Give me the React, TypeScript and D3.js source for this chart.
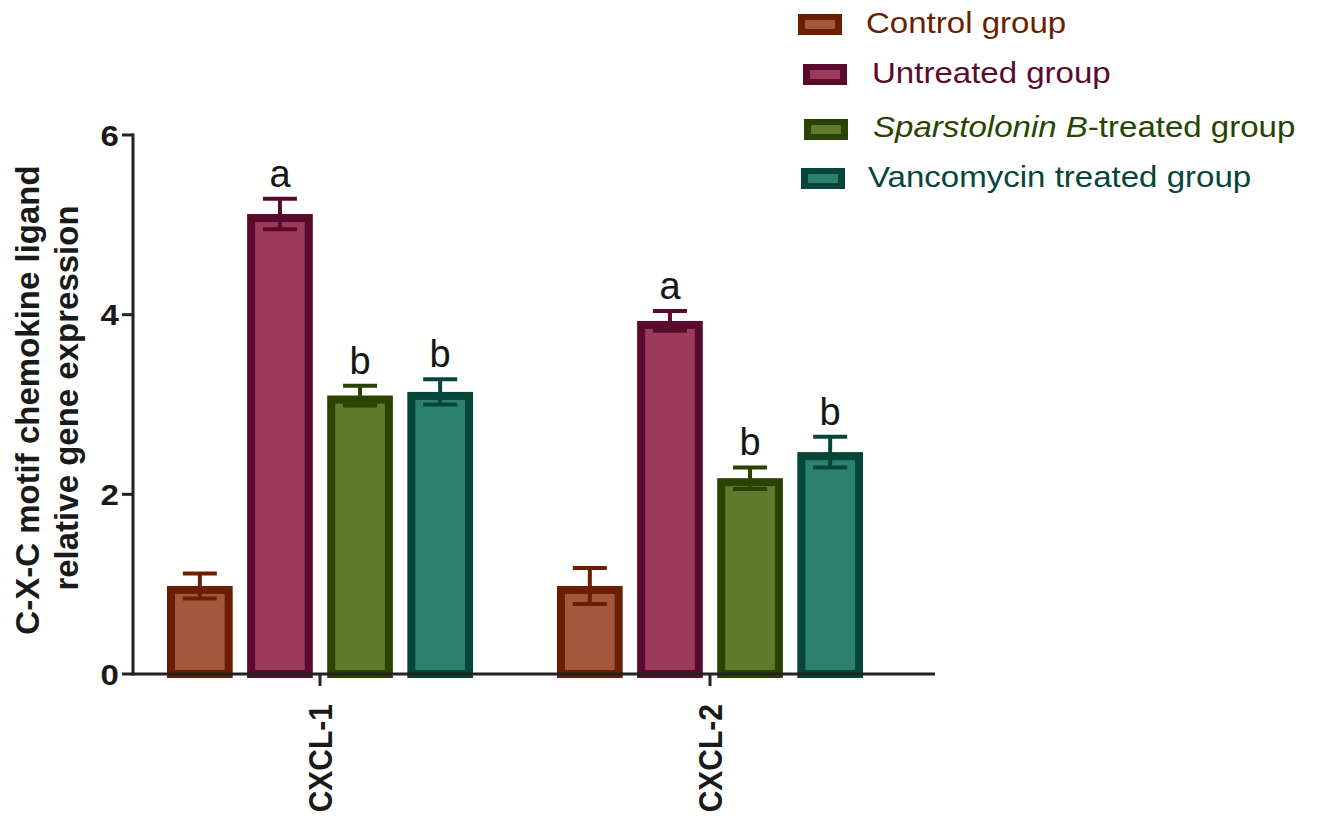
import React from "react";
import * as d3 from "d3";

// Relative expression of CXCL genes per treatment group
const genes = ["CXCL-1", "CXCL-2"];
const groups = ["Control group", "Untreated group", "Sparstolonin B-treated group", "Vancomycin treated group"];
const means = [
  [0.98, 5.12, 3.1, 3.14],
  [0.98, 3.93, 2.18, 2.47],
];
const sems = [
  [0.14, 0.17, 0.11, 0.14],
  [0.2, 0.11, 0.12, 0.17],
];
const letters = [
  ["", "a", "b", "b"],
  ["", "a", "b", "b"],
];
const yTicks = [0, 2, 4, 6];

const fills = ["#a5563b", "#9c3a5c", "#5f7b2b", "#2b816a"];
const strokes = ["#6b1f00", "#5a0a2d", "#294300", "#06463a"];
const textColors = ["#6b1f00", "#5a0a2d", "#294300", "#06463a"];

const W = 1317;
const H = 823;
const axisX = 133;
const axisRight = 935;
const yTop = 135;
const yBottom = 674;

export default function App() {
  const y = d3.scaleLinear().domain([0, 6]).range([yBottom, yTop]);
  const xGene = d3.scaleBand<string>().domain(genes).range([125, 905]);
  const xGroup = d3.scaleBand<string>().domain(groups).range([-153, 153]).paddingInner(0.18);
  const bw = xGroup.bandwidth();
  const sw = 8;
  const font = "'Liberation Sans', Arial, sans-serif";

  const legendRows = [
    { sx: 798, sy: 14, tx: 866, ty: 33 },
    { sx: 803, sy: 64, tx: 872, ty: 83 },
    { sx: 804, sy: 119, tx: 873, ty: 137 },
    { sx: 801, sy: 168, tx: 868, ty: 187 },
  ];

  return (
    <svg width={W} height={H} style={{ position: "absolute", left: 0, top: 0, background: "#fff" }} fontFamily={font}>
      {/* bars, error bars and significance letters */}
      {genes.map((g, gi) => {
        const cx = xGene(g)! + xGene.bandwidth() / 2;
        return (
          <g key={g}>
            {groups.map((s, si) => {
              const x0 = cx + xGroup(s)!;
              const v = means[gi][si];
              const e = sems[gi][si];
              const top = y(v);
              const mid = x0 + bw / 2;
              const capW = 34;
              return (
                <g key={s}>
                  <rect
                    x={x0 + sw / 2}
                    y={top + sw / 2}
                    width={bw - sw}
                    height={yBottom - top - sw / 2}
                    fill={fills[si]}
                    stroke={strokes[si]}
                    strokeWidth={sw}
                  />
                  <line x1={mid} x2={mid} y1={y(v + e)} y2={y(v - e)} stroke={strokes[si]} strokeWidth={4} />
                  <line x1={mid - capW / 2} x2={mid + capW / 2} y1={y(v + e)} y2={y(v + e)} stroke={strokes[si]} strokeWidth={4} />
                  <line x1={mid - capW / 2} x2={mid + capW / 2} y1={y(v - e)} y2={y(v - e)} stroke={strokes[si]} strokeWidth={4} />
                  {letters[gi][si] && (
                    <text x={mid} y={y(v + e) - 12} textAnchor="middle" fontSize={38} fill="#151515">
                      {letters[gi][si]}
                    </text>
                  )}
                </g>
              );
            })}
            <line x1={cx} x2={cx} y1={yBottom} y2={yBottom + 12} stroke="#222" strokeWidth={3} />
            <text
              transform={`translate(${cx + 12},${yBottom + 30}) rotate(-90) scale(1,1.12)`}
              textAnchor="end"
              fontSize={30}
              fontWeight="bold"
              fill="#1a1a1a"
            >
              {g}
            </text>
          </g>
        );
      })}

      {/* axes */}
      <line x1={axisX} x2={axisX} y1={yTop - 1.5} y2={yBottom + 1.5} stroke="#222" strokeWidth={3} />
      <line x1={axisX - 1.5} x2={axisRight} y1={yBottom} y2={yBottom} stroke="#222" strokeWidth={3} />
      {yTicks.map((t) => (
        <g key={t}>
          <line x1={axisX - 11} x2={axisX} y1={y(t)} y2={y(t)} stroke="#222" strokeWidth={3} />
          <text
            transform={`translate(${axisX - 14},${y(t) + 10.5}) scale(1.12,1)`}
            textAnchor="end"
            fontSize={29.5}
            fontWeight="bold"
            fill="#1a1a1a"
          >
            {t}
          </text>
        </g>
      ))}

      {/* y-axis title */}
      <text transform={`translate(39,400) rotate(-90)`} textAnchor="middle" fontSize={33} fontWeight="bold" fill="#1a1a1a">
        C-X-C motif chemokine ligand
      </text>
      <text transform={`translate(78,398) rotate(-90)`} textAnchor="middle" fontSize={33} fontWeight="bold" fill="#1a1a1a">
        relative gene expression
      </text>

      {/* legend */}
      {groups.map((s, si) => {
        const r = legendRows[si];
        return (
          <g key={s}>
            <rect x={r.sx} y={r.sy} width={44} height={21} fill={strokes[si]} />
            <rect x={r.sx + 7} y={r.sy + 6} width={30} height={9} fill={fills[si]} />
            <text transform={`translate(${r.tx},${r.ty}) scale(1.12,1)`} fontSize={29.5} fill={textColors[si]}>
              {si === 2 ? (
                <>
                  <tspan fontStyle="italic">Sparstolonin B</tspan>
                  <tspan>-treated group</tspan>
                </>
              ) : (
                s
              )}
            </text>
          </g>
        );
      })}
    </svg>
  );
}
